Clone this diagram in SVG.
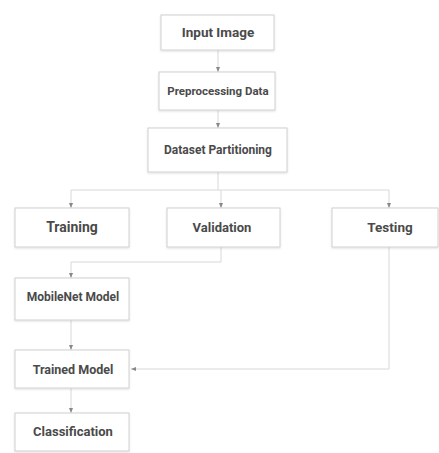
<svg xmlns="http://www.w3.org/2000/svg" width="439" height="453" viewBox="0 0 439 453">
<defs>
<marker id="ah" markerWidth="6" markerHeight="6" refX="5" refY="3" orient="auto" markerUnits="userSpaceOnUse">
<path d="M0,1 L5,3 L0,5 Z" fill="#888"/>
</marker>
<filter id="sh" x="-10%" y="-10%" width="120%" height="130%">
<feDropShadow dx="0" dy="1" stdDeviation="1" flood-color="#000" flood-opacity="0.12"/>
</filter>
</defs>
<style>
.box{fill:#fff;stroke:#d0d0d0;stroke-width:1;filter:url(#sh)}
.t{font-family:Roboto,"Liberation Sans",sans-serif;font-weight:bold;fill:#4a4a4a;text-anchor:middle;dominant-baseline:central}
.c{fill:none;stroke:#d8d8d8;stroke-width:1}
</style>
<rect width="439" height="453" fill="#fff"/>
<g id="connectors">
<path class="c" d="M218,50 V72" marker-end="url(#ah)"/>
<path class="c" d="M218,110 V128" marker-end="url(#ah)"/>
<path class="c" d="M218,172 V190"/>
<path class="c" d="M71,190 H389"/>
<path class="c" d="M71,190 V208" marker-end="url(#ah)"/>
<path class="c" d="M221,190 V208" marker-end="url(#ah)"/>
<path class="c" d="M389,190 V208" marker-end="url(#ah)"/>
<path class="c" d="M221,247 V262 H71 V278" marker-end="url(#ah)"/>
<path class="c" d="M71,320 V350" marker-end="url(#ah)"/>
<path class="c" d="M389,247 V369 H131" marker-end="url(#ah)"/>
<path class="c" d="M71,388 V413" marker-end="url(#ah)"/>
</g>
<g id="n-input"><rect class="box" x="161" y="15" width="113" height="35"/><text class="t" x="218" y="32" font-size="13.5">Input Image</text></g>
<g id="n-pre"><rect class="box" x="159" y="72" width="116" height="38"/><text class="t" x="218" y="91" font-size="11.5">Preprocessing Data</text></g>
<g id="n-dataset"><rect class="box" x="148" y="128" width="139" height="44"/><text class="t" x="218" y="150" font-size="12">Dataset Partitioning</text></g>
<g id="n-training"><rect class="box" x="15" y="208" width="114" height="39"/><text class="t" x="72" y="227" font-size="14">Training</text></g>
<g id="n-validation"><rect class="box" x="167" y="208" width="113" height="39"/><text class="t" x="222" y="227" font-size="13">Validation</text></g>
<g id="n-testing"><rect class="box" x="332" y="208" width="106" height="39"/><text class="t" x="390" y="227" font-size="13.5">Testing</text></g>
<g id="n-mobilenet"><rect class="box" x="15" y="278" width="114" height="42"/><text class="t" x="73" y="297" font-size="12">MobileNet Model</text></g>
<g id="n-trained"><rect class="box" x="15" y="350" width="114" height="38"/><text class="t" x="73" y="369" font-size="12.5">Trained Model</text></g>
<g id="n-class"><rect class="box" x="15" y="413" width="114" height="38"/><text class="t" x="73" y="431" font-size="13">Classification</text></g>
</svg>
